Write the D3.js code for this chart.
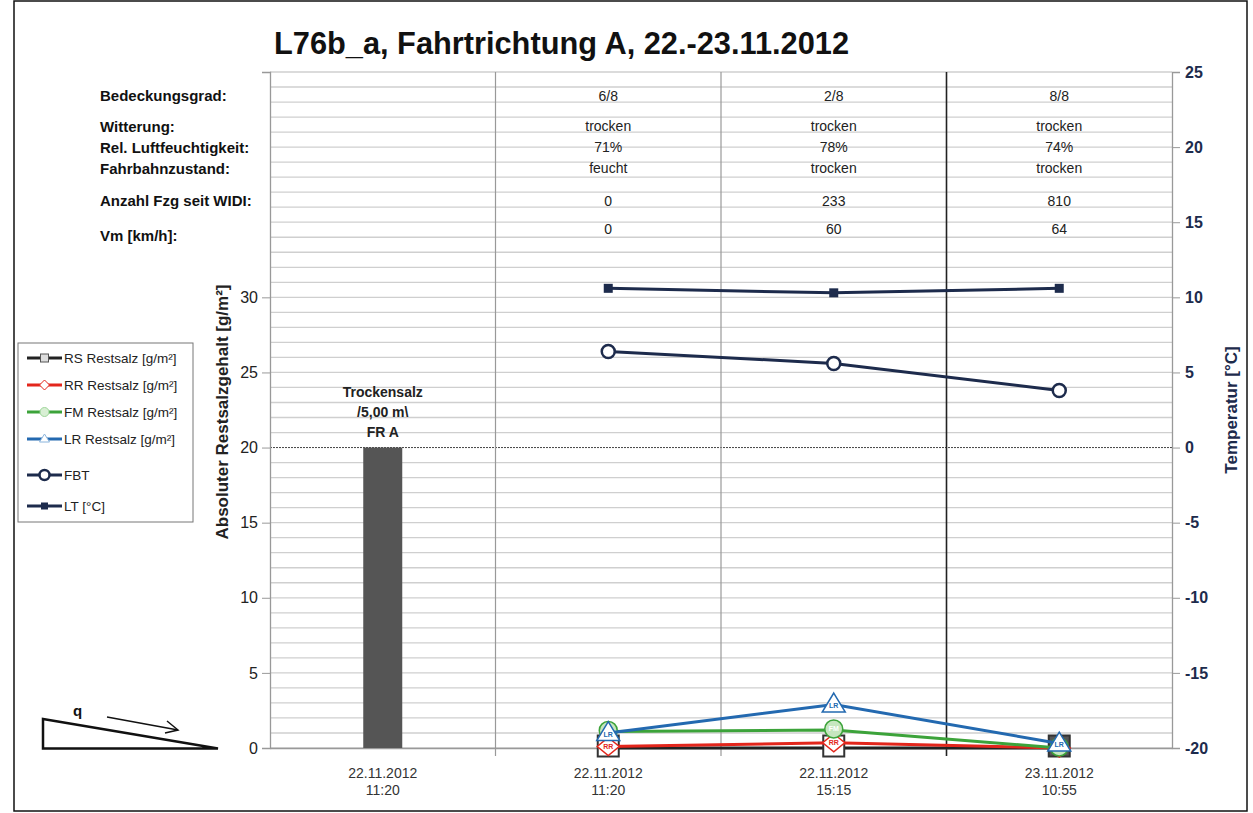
<!DOCTYPE html>
<html>
<head>
<meta charset="utf-8">
<script src="https://cdn.jsdelivr.net/npm/d3@7"></script>
<style>
  body { margin: 0; background: #fff; }
  svg { display: block; font-family: "Liberation Sans", Arial, sans-serif; }
</style>
</head>
<body>
<svg id="chart" width="1253" height="813"></svg>
<script>
// ------------------
// Data
// ------------------
const categories = ['22.11.2012|11:20', '22.11.2012|11:20 ', '22.11.2012|15:15', '23.11.2012|10:55']
const barValues = [20, null, null, null]
const rsValues = [null, 0, 0, 0]
const rrValues = [null, 0.1, 0.35, 0]
const fmValues = [null, 1.1, 1.2, 0]
const lrValues = [null, 1.0, 2.9, 0.3]
const fbtValues = [null, 6.4, 5.6, 3.8]
const ltValues = [null, 10.6, 10.3, 10.6]

const tableLabels = ['Bedeckungsgrad:', 'Witterung:', 'Rel. Luftfeuchtigkeit:', 'Fahrbahnzustand:', 'Anzahl Fzg seit WIDI:', 'Vm [km/h]:']
const bedeckung = ['', '6/8', '2/8', '8/8']
const witterung = ['', 'trocken', 'trocken', 'trocken']
const feuchte = ['', '71%', '78%', '74%']
const fahrbahn = ['', 'feucht', 'trocken', 'trocken']
const anzahlFzg = ['', '0', '233', '810']
const vm = ['', '0', '60', '64']

const leftTicks = [0, 5, 10, 15, 20, 25, 30]
const rightTicks = [-20, -15, -10, -5, 0, 5, 10, 15, 20, 25]

const svg = d3.select('#chart')
const navy = '#1d2b4c'

// frame
svg.append('rect')
  .attr('x', 14).attr('y', 1).attr('width', 1233).attr('height', 810)
  .attr('fill', 'none').attr('stroke', '#111').attr('stroke-width', 1.5)

// ------------------
// Scales
// ------------------
const x = d3.scaleBand().domain(categories).range([270, 1172]).padding(0)
const yL = d3.scaleLinear().domain([0, 45]).range([748, 72])
const yR = d3.scaleLinear().domain([-20, 25]).range([748, 72])
const cx = i => x(categories[i]) + x.bandwidth() / 2

// ------------------
// Grid
// ------------------
const grid = svg.append('g')
grid.selectAll('line.h')
  .data(d3.range(0, 46))
  .enter().append('line')
  .attr('x1', 270).attr('x2', 1172)
  .attr('y1', d => yL(d)).attr('y2', d => yL(d))
  .attr('stroke', d => d === 20 ? '#444' : '#cfcfcf')
  .attr('stroke-width', d => d === 20 ? 1 : 1.3)
  .attr('stroke-dasharray', d => d === 20 ? '2,1' : null)

// vertical separators
categories.slice(1).forEach((c, i) => {
  svg.append('line')
    .attr('x1', x(c)).attr('x2', x(c))
    .attr('y1', 72).attr('y2', 756)
    .attr('stroke', i === 2 ? '#222' : '#999')
    .attr('stroke-width', i === 2 ? 1.6 : 1.2)
})

// ------------------
// Axes
// ------------------
const axL = svg.append('g')
  .attr('transform', 'translate(270,0)')
  .call(d3.axisLeft(yL).tickValues(leftTicks).tickSize(8).tickPadding(4).tickFormat(d => String(d)))
axL.select('.domain').attr('stroke', '#999').attr('stroke-width', 1.3)
axL.selectAll('.tick line').attr('stroke', '#999')
axL.selectAll('.tick text').attr('font-size', 16).attr('fill', '#222')
  .attr('font-family', '"Liberation Sans", Arial, sans-serif')

const axR = svg.append('g')
  .attr('transform', 'translate(1172,0)')
  .call(d3.axisRight(yR).tickValues(rightTicks).tickSize(8).tickPadding(5).tickFormat(d => String(d)))
axR.select('.domain').attr('stroke', '#999').attr('stroke-width', 1.3)
axR.selectAll('.tick line').attr('stroke', '#999')
axR.selectAll('.tick text').attr('font-size', 16).attr('font-weight', 'bold').attr('fill', navy)
  .attr('font-family', '"Liberation Sans", Arial, sans-serif')

const axB = svg.append('g')
  .attr('transform', 'translate(0,748)')
  .call(d3.axisBottom(x).tickSize(0).tickFormat(''))
axB.select('.domain').attr('stroke', '#999').attr('stroke-width', 1.3)

// x labels (two lines)
categories.forEach((c, i) => {
  const parts = c.trim().split('|')
  const t = svg.append('text')
    .attr('x', cx(i)).attr('y', 778)
    .attr('text-anchor', 'middle').attr('font-size', 14).attr('fill', '#333')
  t.append('tspan').attr('x', cx(i)).text(parts[0])
  t.append('tspan').attr('x', cx(i)).attr('dy', 17).text(parts[1])
})

// axis titles
svg.append('text')
  .attr('transform', 'translate(228,412) rotate(-90)')
  .attr('text-anchor', 'middle').attr('font-size', 17).attr('font-weight', 'bold').attr('fill', '#222')
  .text('Absoluter Restsalzgehalt [g/m²]')
svg.append('text')
  .attr('transform', 'translate(1237,410) rotate(-90)')
  .attr('text-anchor', 'middle').attr('font-size', 17).attr('font-weight', 'bold').attr('fill', navy)
  .text('Temperatur [°C]')

// title
svg.append('text')
  .attr('x', 274).attr('y', 54)
  .attr('font-size', 31).attr('font-weight', 'bold').attr('fill', '#111')
  .attr('textLength', 575).attr('lengthAdjust', 'spacingAndGlyphs')
  .text('L76b_a, Fahrtrichtung A, 22.-23.11.2012')

// ------------------
// Table rows
// ------------------
const rowY = [101, 132, 153, 174, 206, 241]
tableLabels.forEach((l, i) => {
  svg.append('text')
    .attr('x', 100).attr('y', rowY[i])
    .attr('font-size', 15).attr('font-weight', 'bold').attr('fill', '#111')
    .text(l)
})
const valueY = [101, 131, 152, 173, 206, 234]
;[bedeckung, witterung, feuchte, fahrbahn, anzahlFzg, vm].forEach((row, r) => {
  row.forEach((v, i) => {
    if (!v) return
    svg.append('text')
      .attr('x', cx(i)).attr('y', valueY[r])
      .attr('text-anchor', 'middle').attr('font-size', 14).attr('fill', '#222')
      .text(v)
  })
})

// ------------------
// Bar
// ------------------
const barW = 39
svg.selectAll('.bar')
  .data(barValues.map((v, i) => ({ v, i })).filter(d => d.v != null))
  .enter().append('rect')
  .attr('x', d => cx(d.i) - barW / 2)
  .attr('width', barW)
  .attr('y', d => yL(d.v))
  .attr('height', d => yL(0) - yL(d.v))
  .attr('fill', '#555')

const barLabel = svg.append('text')
  .attr('text-anchor', 'middle').attr('font-size', 14).attr('font-weight', 'bold').attr('fill', '#222')
;['Trockensalz', '/5,00 m\\', 'FR A'].forEach((s, k) => {
  barLabel.append('tspan').attr('x', cx(0)).attr('y', 397 + k * 20).text(s)
})

// ------------------
// Lines + markers
// ------------------
function pts(vals, scale) {
  return vals.map((v, i) => ({ v, i })).filter(d => d.v != null)
    .map(d => ({ x: cx(d.i), y: scale(d.v) }))
}
const line = d3.line().x(d => d.x).y(d => d.y)

function drawSeries(vals, scale, color, width) {
  const p = pts(vals, scale)
  svg.append('path').attr('d', line(p))
    .attr('fill', 'none').attr('stroke', color).attr('stroke-width', width)
  return p
}

const cRS = '#222', cRR = '#e3261c', cFM = '#3ca33a', cLR = '#2369b0'

// RS
drawSeries(rsValues, yL, cRS, 3).forEach((p, k) => {
  const s = 21
  svg.append('rect').attr('x', p.x - s / 2).attr('y', p.y - s / 2 - 2)
    .attr('width', s).attr('height', s)
    .attr('fill', k === 2 ? '#555' : '#fff').attr('stroke', '#333').attr('stroke-width', 2)
})
// RR
drawSeries(rrValues, yL, cRR, 3).forEach(p => {
  const w = 11, h = 9
  svg.append('path')
    .attr('d', `M${p.x},${p.y - h}L${p.x + w},${p.y}L${p.x},${p.y + h}L${p.x - w},${p.y}Z`)
    .attr('fill', '#fff').attr('stroke', cRR).attr('stroke-width', 1.5)
  svg.append('text').attr('x', p.x).attr('y', p.y + 2.5).attr('text-anchor', 'middle')
    .attr('font-size', 7).attr('font-weight', 'bold').attr('fill', cRR).text('RR')
})
// FM
drawSeries(fmValues, yL, cFM, 3).forEach(p => {
  svg.append('circle').attr('cx', p.x).attr('cy', p.y - 1).attr('r', 9)
    .attr('fill', '#c6e6bf').attr('stroke', cFM).attr('stroke-width', 1.5)
  svg.append('text').attr('x', p.x).attr('y', p.y + 1.5).attr('text-anchor', 'middle')
    .attr('font-size', 7).attr('font-weight', 'bold').attr('fill', '#fff').text('FM')
})
// LR
drawSeries(lrValues, yL, cLR, 3).forEach(p => {
  const h = 19, w = 23
  svg.append('path')
    .attr('d', `M${p.x},${p.y - h * 0.6}L${p.x + w / 2},${p.y + h * 0.4}L${p.x - w / 2},${p.y + h * 0.4}Z`)
    .attr('fill', '#fff').attr('stroke', cLR).attr('stroke-width', 1.5)
  svg.append('text').attr('x', p.x).attr('y', p.y + 4).attr('text-anchor', 'middle')
    .attr('font-size', 7).attr('font-weight', 'bold').attr('fill', cLR).text('LR')
})

// LT
drawSeries(ltValues, yR, navy, 3).forEach(p => {
  svg.append('rect').attr('x', p.x - 4.5).attr('y', p.y - 4.5).attr('width', 9).attr('height', 9).attr('fill', navy)
})
// FBT
drawSeries(fbtValues, yR, navy, 3).forEach(p => {
  svg.append('circle').attr('cx', p.x).attr('cy', p.y).attr('r', 6.5)
    .attr('fill', '#fff').attr('stroke', navy).attr('stroke-width', 2.5)
})

// ------------------
// Legend
// ------------------
const legend = svg.append('g')
legend.append('rect').attr('x', 18).attr('y', 343).attr('width', 175).attr('height', 179)
  .attr('fill', '#fff').attr('stroke', '#777').attr('stroke-width', 1)
const legItems = [
  { name: 'RS Restsalz [g/m²]', color: cRS, mark: 'sq' },
  { name: 'RR Restsalz [g/m²]', color: cRR, mark: 'dia' },
  { name: 'FM Restsalz [g/m²]', color: cFM, mark: 'circ' },
  { name: 'LR Restsalz [g/m²]', color: cLR, mark: 'tri' },
  { name: 'FBT', color: navy, mark: 'open' },
  { name: 'LT  [°C]', color: navy, mark: 'fill' }
]
const legY = [358, 385, 412, 439, 475, 506]
legItems.forEach((d, i) => {
  const ly = legY[i]
  legend.append('line').attr('x1', 27).attr('x2', 62).attr('y1', ly).attr('y2', ly)
    .attr('stroke', d.color).attr('stroke-width', 3)
  const mx = 44.5
  if (d.mark === 'sq') legend.append('rect').attr('x', mx - 4).attr('y', ly - 4).attr('width', 8).attr('height', 8).attr('fill', '#ddd').attr('stroke', '#555')
  if (d.mark === 'dia') legend.append('path').attr('d', `M${mx},${ly - 5}L${mx + 5},${ly}L${mx},${ly + 5}L${mx - 5},${ly}Z`).attr('fill', '#fff').attr('stroke', d.color)
  if (d.mark === 'circ') legend.append('circle').attr('cx', mx).attr('cy', ly).attr('r', 4.5).attr('fill', '#d8efd4').attr('stroke', '#9fd69a')
  if (d.mark === 'tri') legend.append('path').attr('d', `M${mx},${ly - 5}L${mx + 5},${ly + 3}L${mx - 5},${ly + 3}Z`).attr('fill', '#fff').attr('stroke', '#8ab4dc')
  if (d.mark === 'open') legend.append('circle').attr('cx', mx).attr('cy', ly).attr('r', 5).attr('fill', '#fff').attr('stroke', d.color).attr('stroke-width', 2.5)
  if (d.mark === 'fill') legend.append('rect').attr('x', mx - 3.5).attr('y', ly - 3.5).attr('width', 7).attr('height', 7).attr('fill', d.color)
  legend.append('text').attr('x', 64).attr('y', ly + 5)
    .attr('font-size', 13.5).attr('fill', '#222').text(d.name)
})

// ------------------
// Slope sketch
// ------------------
svg.append('path').attr('d', 'M43,719L43,748.5L218,748.5Z')
  .attr('fill', 'none').attr('stroke', '#111').attr('stroke-width', 2.5).attr('stroke-linejoin', 'miter')
svg.append('text').attr('x', 73).attr('y', 716).attr('font-size', 15).attr('font-weight', 'bold').attr('fill', '#111').text('q')
svg.append('line').attr('x1', 107).attr('y1', 717).attr('x2', 178).attr('y2', 730)
  .attr('stroke', '#111').attr('stroke-width', 1.5)
svg.append('path').attr('d', 'M167,721L178,730L165,733')
  .attr('fill', 'none').attr('stroke', '#111').attr('stroke-width', 1.5)
</script>
</body>
</html>
